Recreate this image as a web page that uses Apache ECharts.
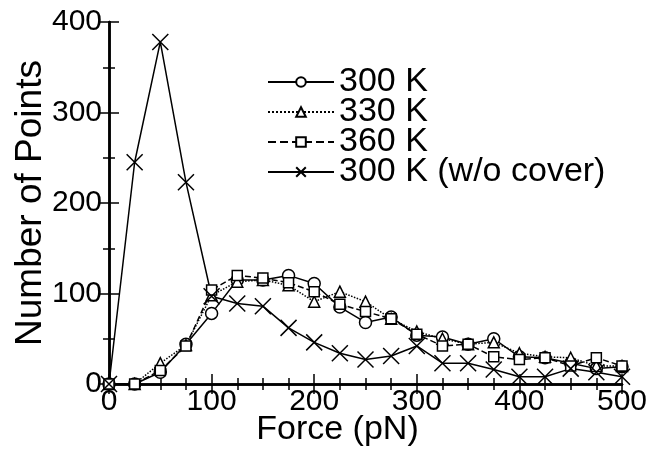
<!DOCTYPE html>
<html>
<head>
<meta charset="utf-8">
<script src="https://cdn.jsdelivr.net/npm/echarts@6/dist/echarts.min.js"></script>
<style>
  body { margin: 0; background: #fff; }
  #chart { width: 665px; height: 456px; }
</style>
</head>
<body>
<div id="chart"></div>
<script>
// force bins (pN)
var force = [0, 25, 50, 75, 100, 125, 150, 175, 200, 225, 250, 275, 300, 325, 350, 375, 400, 425, 450, 475, 500];
var k300 = [0, 0, 13, 44, 78, 115, 115, 120, 111, 85, 68, 74, 54, 52, 44, 50, 30, 29, 23, 17, 19];
var k330 = [0, 0, 23, 43, 98, 113, 115, 109, 91, 102, 91, 72, 58, 50, 44, 46, 34, 30, 29, 20, 20];
var k360 = [0, 0, 15, 42, 104, 120, 117, 112, 102, 88, 80, 72, 55, 42, 44, 30, 27, 29, 20, 29, 20];
var k300nc = [0, 245, 378, 223, 97, 89, 86, 62, 46, 34, 27, 31, 42, 23, 23, 16, 8, 8, 17, 13, 8];

var font = 'Liberation Sans, Arial, sans-serif';
var cross = 'path://M0,0L10,10M10,0L0,10';

function pairs(ys) {
  return force.map(function (x, i) { return [x, ys[i]]; });
}

function makeSeries(name, ys, symbol, size, lineType) {
  return {
    name: name,
    type: 'line',
    data: pairs(ys),
    symbol: symbol,
    symbolSize: size,
    lineStyle: { color: '#000', width: 1.5, type: lineType },
    itemStyle: { color: '#fff', borderColor: '#000', borderWidth: 1.5 },
    emphasis: { disabled: true }
  };
}

var tick = { inside: true, length: 10, lineStyle: { color: '#000', width: 1.5 } };
var axisLine = { show: true, lineStyle: { color: '#000', width: 2.5 } };

var chart = echarts.init(document.getElementById('chart'));
chart.setOption({
  animation: false,
  grid: { left: 109, right: 43, top: 22, bottom: 72, outerBoundsMode: 'none' },
  legend: {
    orient: 'vertical',
    left: 262,
    top: 60,
    itemGap: -4,
    itemWidth: 66,
    itemHeight: 12,
    textStyle: { fontFamily: font, fontSize: 34, color: '#000' },
    data: ['300 K', '330 K', '360 K', '300 K (w/o cover)']
  },
  xAxis: [{
    type: 'value', min: 0, max: 500, interval: 100,
    name: 'Force (pN)', nameLocation: 'middle', nameGap: 29, nameMoveOverlap: false,
    nameTextStyle: { fontFamily: font, fontSize: 34, color: '#000', padding: [0, 56, 0, 0] },
    axisLine: axisLine,
    axisTick: tick,
    minorTick: { show: true, splitNumber: 4, length: 6, lineStyle: { color: '#000', width: 1.5 } },
    axisLabel: { fontFamily: font, fontSize: 30, color: '#000', margin: 3 },
    splitLine: { show: false }
  }, {
    type: 'value', min: 0, max: 500, interval: 100, position: 'top',
    axisLine: axisLine,
    axisTick: tick,
    minorTick: { show: true, splitNumber: 4, length: 6, lineStyle: { color: '#000', width: 1.5 } },
    axisLabel: { show: false },
    splitLine: { show: false }
  }],
  yAxis: [{
    type: 'value', min: 0, max: 400, interval: 100,
    name: 'Number of Points', nameLocation: 'middle', nameGap: 60, nameMoveOverlap: false,
    nameTextStyle: { fontFamily: font, fontSize: 37, color: '#000' },
    axisLine: axisLine,
    axisTick: Object.assign({ show: true }, tick),
    minorTick: { show: true, splitNumber: 2, length: 6, lineStyle: { color: '#000', width: 1.5 } },
    axisLabel: { fontFamily: font, fontSize: 30, color: '#000', margin: 7 },
    splitLine: { show: false }
  }, {
    type: 'value', min: 0, max: 400, interval: 100, position: 'right',
    axisLine: axisLine,
    axisTick: Object.assign({ show: true }, tick),
    minorTick: { show: true, splitNumber: 2, length: 6, lineStyle: { color: '#000', width: 1.5 } },
    axisLabel: { show: false },
    splitLine: { show: false }
  }],
  series: [
    makeSeries('300 K', k300, 'circle', 12, 'solid'),
    makeSeries('330 K', k330, 'triangle', 11, 'dotted'),
    makeSeries('360 K', k360, 'rect', 10, 'dashed'),
    makeSeries('300 K (w/o cover)', k300nc, cross, 16, 'solid')
  ]
});
</script>
</body>
</html>
